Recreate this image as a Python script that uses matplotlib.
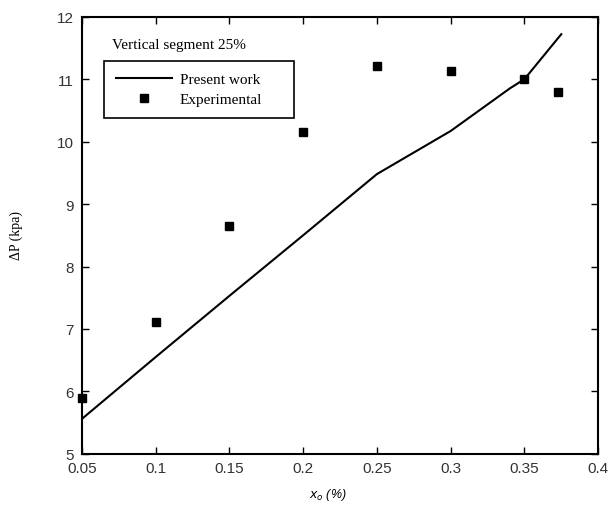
import matplotlib
matplotlib.use("Agg")
import matplotlib.pyplot as plt
import numpy as np

# model curve (present work)
x_model = [0.05, 0.10, 0.15, 0.20, 0.25, 0.30, 0.34, 0.35, 0.375]
dp_model = [5.56, 6.55, 7.53, 8.50, 9.48, 10.17, 10.85, 11.00, 11.72]

# experimental points
x_exp = [0.05, 0.10, 0.15, 0.20, 0.25, 0.30, 0.35, 0.373]
dp_exp = [5.90, 7.11, 8.65, 10.15, 11.21, 11.13, 11.00, 10.79]

x_ticks = [0.05, 0.1, 0.15, 0.2, 0.25, 0.3, 0.35, 0.4]
x_tick_labels = ["0.05", "0.1", "0.15", "0.2", "0.25", "0.3", "0.35", "0.4"]
y_ticks = [5, 6, 7, 8, 9, 10, 11, 12]


def plot_fig():
    fig = plt.figure(figsize=(6.11, 5.06), dpi=100)
    ax = fig.add_axes([0.134, 0.101, 0.845, 0.864])

    ax.plot(x_model, dp_model, "-", color="black", linewidth=1.5, label="Present work")
    ax.plot(x_exp, dp_exp, "s", color="black", markersize=5.5, linestyle="none",
            label="Experimental", clip_on=False)

    ax.set_xlim(0.05, 0.4)
    ax.set_ylim(5, 12)
    ax.set_xticks(x_ticks)
    ax.set_xticklabels(x_tick_labels)
    ax.set_yticks(y_ticks)

    ax.tick_params(direction="in", top=True, right=True, length=5, width=1,
                   labelsize=11, pad=4)
    ax.tick_params(axis="x", pad=5)
    ax.tick_params(axis="y", pad=6)
    for lab in ax.get_xticklabels() + ax.get_yticklabels():
        lab.set_family("Liberation Sans")
        lab.set_color("#333333")
    for sp in ax.spines.values():
        sp.set_linewidth(1.5)

    # axis titles
    fig.text(0.027, 0.535, "\u0394P (kpa)", rotation=90, ha="center", va="center",
             fontsize=10, family="Liberation Serif")
    fig.text(0.537, 0.022, r"$x_o$ (%)", ha="center", va="center",
             fontsize=9, style="italic", family="Liberation Sans")

    ax.text(0.058, 0.937, "Vertical segment 25%", transform=ax.transAxes,
            family="Liberation Serif", fontsize=11, va="center", ha="left")

    # legend box spans a fixed width, as in the source figure
    leg = ax.legend(loc="upper left", bbox_to_anchor=(0.043, 0.0, 0.368, 0.898),
                    mode="expand", borderaxespad=0, frameon=True, fancybox=False,
                    prop={"family": "Liberation Serif", "size": 11},
                    handlelength=3.7, handletextpad=0.5, labelspacing=0.4,
                    borderpad=0.75)
    leg.get_frame().set_edgecolor("black")
    leg.get_frame().set_linewidth(1.2)
    leg.get_frame().set_alpha(1.0)

    fig.savefig("out.png", dpi=100)
    plt.close(fig)


def main():
    plot_fig()


if __name__ == '__main__':
    main()
